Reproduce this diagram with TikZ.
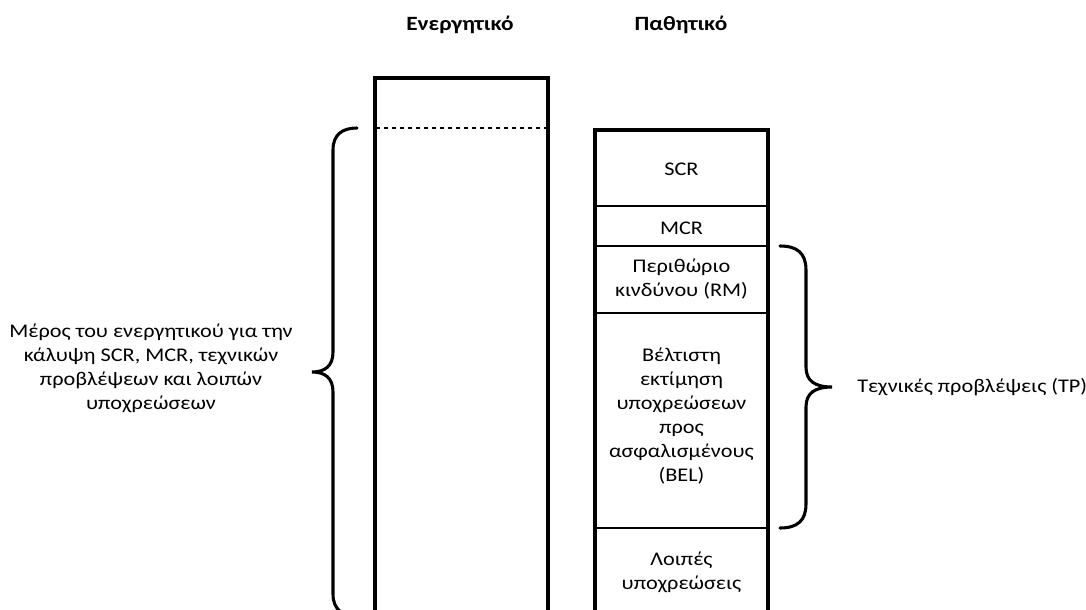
\documentclass[tikz,border=0pt]{standalone}
\usepackage{fontspec}
\setmainfont{Carlito}[FakeStretch=1.15]
\begin{document}
\begin{tikzpicture}[x=0.75pt,y=-0.75pt,
  frame/.style={line width=2.3pt,line join=miter},
  divider/.style={line width=1pt},
  bracepath/.style={line width=2.3pt,line cap=round},
  lbl/.style={inner sep=0pt,align=center,font=\fontsize{14.5}{18}\selectfont},
  ttl/.style={inner sep=0pt,font=\fontsize{15.2}{18}\selectfont\bfseries}]
\useasboundingbox (0,0) rectangle (1086,610);
\clip (0,0) rectangle (1086,610);
% titles
\node[ttl] (assets) at (460,25) {Ενεργητικό};
\node[ttl] (liab) at (681,25) {Παθητικό};
% asset column
\draw[frame] (375,620) -- (375,78) -- (548,78) -- (548,620);
\draw[dashed,line width=0.8pt] (376,128) -- (547,128);
% liabilities column
\draw[frame] (595,620) -- (595,130) -- (768,130) -- (768,620);
\draw[divider] (596,206) -- (767,206);
\draw[divider] (596,246) -- (767,246);
\draw[divider] (596,313) -- (767,313);
\draw[divider] (596,528) -- (767,528);
\node[lbl] (scr) at (681.5,169) {SCR};
\node[lbl] (mcr) at (681.5,228) {MCR};
\node[lbl] (rm) at (681.5,279) {Περιθώριο\\κινδύνου (RM)};
\node[lbl] (bel) at (681.5,416.5) {Βέλτιστη\\εκτίμηση\\υποχρεώσεων\\προς\\ασφαλισμένους\\(BEL)};
\node[lbl] (other) at (681.5,572) {Λοιπές\\υποχρεώσεις};
% left brace
\draw[bracepath] (357,128) .. controls (343,128) and (333,134) .. (333,150) -- (333,352)
  .. controls (333,366) and (325,372) .. (312,372)
  .. controls (325,372) and (333,378) .. (333,392) -- (333,594)
  .. controls (333,610) and (343,616) .. (357,616);
\node[lbl] (cover) at (151,368) {Μέρος του ενεργητικού για την\\κάλυψη SCR, MCR, τεχνικών\\προβλέψεων και λοιπών\\υποχρεώσεων};
% right brace
\draw[bracepath] (780,246) .. controls (797,246) and (806,253) .. (806,270) -- (806,367)
  .. controls (806,381) and (815,387) .. (832,387)
  .. controls (815,387) and (806,393) .. (806,407) -- (806,504)
  .. controls (806,521) and (797,528) .. (780,528);
\node[lbl,anchor=west] (tp) at (857,387) {Τεχνικές προβλέψεις (TP)};
\end{tikzpicture}
\end{document}
